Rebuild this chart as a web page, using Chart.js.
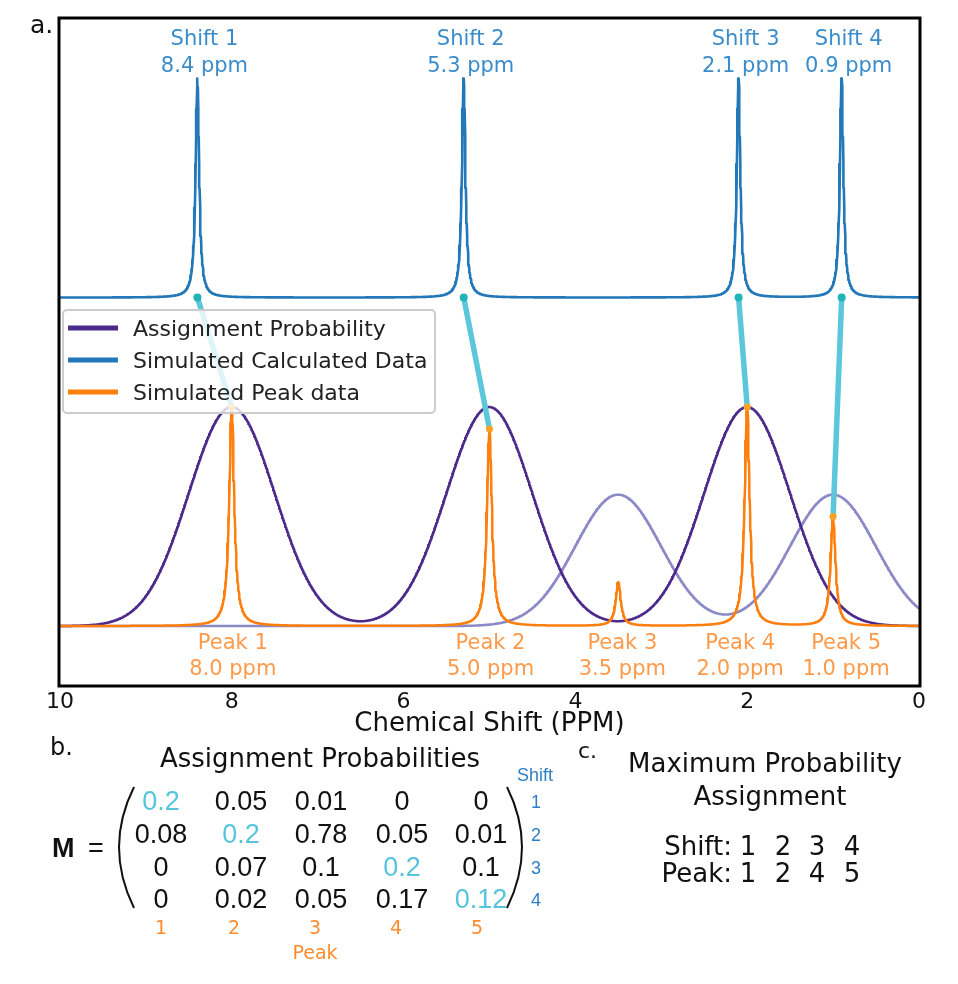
<!DOCTYPE html>
<html>
<head>
<meta charset="utf-8">
<script src="https://cdn.jsdelivr.net/npm/chart.js@4.4.0/dist/chart.umd.min.js"></script>
<style>
  body { margin: 0; background: #fff; }
  canvas { display: block; }
</style>
</head>
<body>
<canvas id="grafico" width="958" height="984"></canvas>
<script>
// deslocamentos calculados (espectro de cima)
const shiftPpm = [8.4, 5.3, 2.1, 0.9];
const shiftHeight = [1, 1, 1, 1];
// picos simulados (espectro de baixo)
const peakPpm = [8.0, 5.0, 3.5, 2.0, 1.0];
const peakHeight = [1.0, 0.9, 0.2, 1.0, 0.5];
// curvas de probabilidade
const probPpm = [8.0, 5.0, 2.0];
const probHeight = [1, 1, 1];
const probFaintPpm = [3.5, 1.0];
const probFaintHeight = [0.6, 0.6];
// matriz M (linhas = shift, colunas = peak)
const probMatrix = [
  [0.2, 0.05, 0.01, 0, 0],
  [0.08, 0.2, 0.78, 0.05, 0.01],
  [0, 0.07, 0.1, 0.2, 0.1],
  [0, 0.02, 0.05, 0.17, 0.12]
];
const assignedPeak = [1, 2, 4, 5];
const xTicks = [10, 8, 6, 4, 2, 0];

// forma das linhas
const calcBaseline = 1.5;
const calcWidth = 0.025;
const peakWidth = 0.035;
const probSigma = 0.5;

const grid = [];
for (let i = 0; i <= 2000; i++) grid.push(i / 200);

const lorentz = (x, c, h, w) => h * w * w / ((x - c) ** 2 + w * w);
const gauss = (x, c, h, s) => h * Math.exp(-((x - c) ** 2) / (2 * s * s));

function curva(centros, alturas, forma, largura, base) {
  return grid.map(x => ({
    x,
    y: base + centros.reduce((soma, c, k) => soma + forma(x, c, alturas[k], largura), 0)
  }));
}

const roxo = '#4b2a8c';
const roxoClaro = '#8c89c7';
const azul = '#2278b8';
const laranja = '#ff7f0e';
const ciano = '#5cc6db';

const ligacoes = shiftPpm.map((s, i) => {
  const p = assignedPeak[i] - 1;
  return {
    label: 'ligacao' + i,
    data: [{x: s, y: calcBaseline}, {x: peakPpm[p], y: peakHeight[p]}],
    borderColor: ciano,
    borderWidth: 5.5,
    pointRadius: [4, 3.5],
    pointBackgroundColor: ['#1fb4b8', '#ffa020'],
    pointBorderWidth: 0,
    order: 0
  };
});

const datasets = [
  ...ligacoes,
  {label: 'Simulated Peak data', data: curva(peakPpm, peakHeight, lorentz, peakWidth, 0),
    borderColor: laranja, borderWidth: 2.5, pointRadius: 0, order: 1},
  {label: 'Simulated Calculated Data', data: curva(shiftPpm, shiftHeight, lorentz, calcWidth, calcBaseline),
    borderColor: azul, borderWidth: 2.6, pointRadius: 0, order: 2},
  {label: 'Assignment Probability', data: curva(probPpm, probHeight, gauss, probSigma, 0),
    borderColor: roxo, borderWidth: 2.5, pointRadius: 0, order: 3},
  {label: 'faint', data: curva(probFaintPpm, probFaintHeight, gauss, probSigma, 0),
    borderColor: roxoClaro, borderWidth: 2.5, pointRadius: 0, order: 4}
];

function texto(ctx, t, x, y, fonte, cor, alinhamento = 'center') {
  ctx.font = fonte;
  ctx.fillStyle = cor;
  ctx.textAlign = alinhamento;
  ctx.textBaseline = 'alphabetic';
  ctx.fillText(t, x, y);
}

const DV = '"DejaVu Sans", sans-serif';
const LS = '"Liberation Sans", Arial, sans-serif';

const extras = {
  id: 'extras',
  afterDraw(chart) {
    const ctx = chart.ctx;
    const ca = chart.chartArea;
    const xs = chart.scales.x;
    const ys = chart.scales.y;
    ctx.save();

    // moldura
    ctx.strokeStyle = '#000';
    ctx.lineWidth = 3;
    ctx.strokeRect(ca.left - 1, ca.top - 1, ca.right - ca.left + 2, ca.bottom - ca.top + 2);

    texto(ctx, 'a.', 30, 33, '25px ' + DV, '#111', 'left');

    // rotulos dos shifts
    shiftPpm.forEach((s, i) => {
      const px = xs.getPixelForValue(s) + 7;
      texto(ctx, 'Shift ' + (i + 1), px, ca.top + 26, '21px ' + DV, '#3a8ccb');
      texto(ctx, s.toFixed(1) + ' ppm', px, ca.top + 53, '21px ' + DV, '#3a8ccb');
    });

    // rotulos dos picos
    const desvio = [1, 1, 4, -7, 13];
    const y0 = ys.getPixelForValue(0);
    peakPpm.forEach((p, i) => {
      const px = xs.getPixelForValue(p) + desvio[i];
      texto(ctx, 'Peak ' + (i + 1), px, y0 + 23, '21px ' + DV, '#ff9a4a');
      texto(ctx, p.toFixed(1) + ' ppm', px, y0 + 49, '21px ' + DV, '#ff9a4a');
    });

    // legenda
    const lx = ca.left + 3, ly = ca.top + 291, lw = 372, lh = 103;
    ctx.beginPath();
    ctx.roundRect(lx, ly, lw, lh, 4);
    ctx.fillStyle = 'rgba(255,255,255,0.8)';
    ctx.fill();
    ctx.strokeStyle = '#cccccc';
    ctx.lineWidth = 2;
    ctx.stroke();
    [['Assignment Probability', roxo], ['Simulated Calculated Data', azul], ['Simulated Peak data', laranja]]
      .forEach(([nome, cor], k) => {
        const yy = ly + 18 + k * 32;
        ctx.strokeStyle = cor;
        ctx.lineWidth = 5;
        ctx.beginPath();
        ctx.moveTo(lx + 5, yy);
        ctx.lineTo(lx + 55, yy);
        ctx.stroke();
        texto(ctx, nome, lx + 70, yy + 8, '22px ' + DV, '#222', 'left');
      });

    // painel b
    texto(ctx, 'b.', 50, 755, '24px ' + DV, '#111', 'left');
    texto(ctx, 'Assignment Probabilities', 320, 767, '26px ' + DV, '#111');
    texto(ctx, 'M', 52, 857, 'bold 27px ' + LS, '#111', 'left');
    texto(ctx, '=', 96, 857, '27px ' + LS, '#111');

    ctx.strokeStyle = '#111';
    ctx.lineWidth = 2;
    ctx.beginPath();
    ctx.moveTo(134, 787);
    ctx.quadraticCurveTo(104, 847, 134, 908);
    ctx.moveTo(507, 787);
    ctx.quadraticCurveTo(537, 847, 507, 908);
    ctx.stroke();

    const colX = [161, 241, 321, 402, 481];
    const rowY = [810, 843, 876, 908];
    probMatrix.forEach((linha, r) => {
      linha.forEach((v, c) => {
        const cor = assignedPeak[r] - 1 === c ? '#55c4dc' : '#111';
        texto(ctx, String(v), colX[c], rowY[r], '27px ' + LS, cor);
      });
      texto(ctx, String(r + 1), 536, rowY[r] - 2, '18px ' + LS, '#2d7fc6');
    });
    texto(ctx, 'Shift', 535, 781, '18px ' + LS, '#2d7fc6');
    const pkX = [161, 234, 315, 396, 477];
    pkX.forEach((x, c) => texto(ctx, String(c + 1), x, 934, '19px ' + DV, '#ff8c2e'));
    texto(ctx, 'Peak', 315, 959, '19px ' + DV, '#ff8c2e');

    // painel c
    texto(ctx, 'c.', 578, 758, '22px ' + DV, '#111', 'left');
    texto(ctx, 'Maximum Probability', 765, 772, '26px ' + DV, '#111');
    texto(ctx, 'Assignment', 770, 805, '26px ' + DV, '#111');
    texto(ctx, 'Shift:', 732, 855, '26px ' + DV, '#111', 'right');
    texto(ctx, 'Peak:', 732, 882, '26px ' + DV, '#111', 'right');
    const numX = [748, 783, 817, 852];
    assignedPeak.forEach((p, i) => {
      texto(ctx, String(i + 1), numX[i], 855, '26px ' + DV, '#111');
      texto(ctx, String(p), numX[i], 882, '26px ' + DV, '#111');
    });

    ctx.restore();
  }
};

new Chart(document.getElementById('grafico'), {
  type: 'line',
  data: {datasets},
  options: {
    responsive: false,
    animation: false,
    normalized: true,
    layout: {padding: {left: 60, right: 39, top: 19, bottom: 244}},
    elements: {line: {tension: 0, borderJoinStyle: 'round', borderCapStyle: 'round'}},
    plugins: {legend: {display: false}, tooltip: {enabled: false}},
    scales: {
      x: {
        type: 'linear',
        reverse: true,
        min: 0,
        max: 10,
        afterFit: (scale) => { scale.height = 55; },
        afterBuildTicks: (scale) => { scale.ticks = xTicks.map(v => ({value: v})); },
        grid: {display: false, drawTicks: false},
        border: {display: false},
        ticks: {padding: 4, color: '#111', font: {family: 'DejaVu Sans', size: 22}},
        title: {display: true, text: 'Chemical Shift (PPM)', color: '#111',
          font: {family: 'DejaVu Sans', size: 26}, padding: {top: 0, bottom: 0}}
      },
      y: {
        display: false,
        min: -0.269,
        max: 2.772
      }
    }
  },
  plugins: [extras]
});
</script>
</body>
</html>
